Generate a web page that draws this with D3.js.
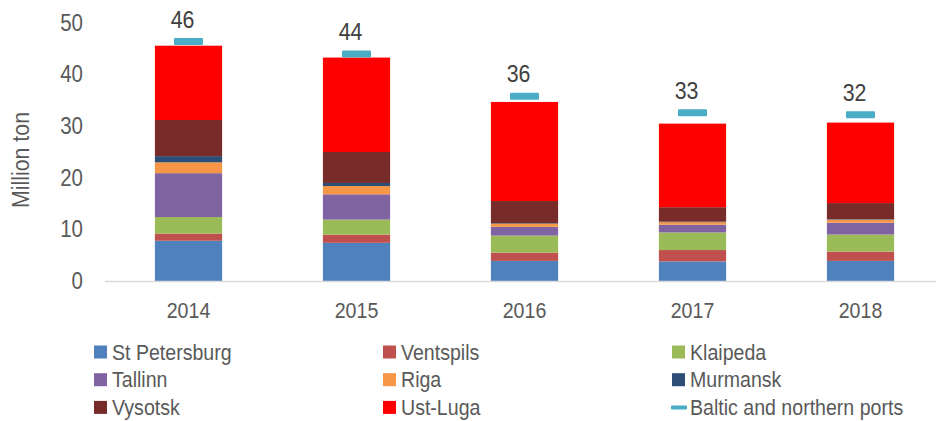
<!DOCTYPE html>
<html>
<head>
<meta charset="utf-8">
<script src="https://cdn.jsdelivr.net/npm/d3@7.9.0/dist/d3.min.js"></script>
<style>
  body { margin: 0; background: #fff; }
  svg text { font-family: "Liberation Sans", Arial, sans-serif; fill: #595959; }
</style>
</head>
<body>
<svg id="chart" width="936" height="421"></svg>
<script>
// Data (million ton)
const years = ['2014', '2015', '2016', '2017', '2018'];
const ports = ['St Petersburg', 'Ventspils', 'Klaipeda', 'Tallinn', 'Riga', 'Murmansk', 'Vysotsk', 'Ust-Luga'];
const portColors = ['#4F81BD', '#C0504D', '#9BBB59', '#8064A2', '#F79646', '#2C4D75', '#772C2A', '#FF0000'];

const stPetersburg = [7.8, 7.4, 3.9, 3.8, 3.9];
const ventspils    = [1.4, 1.6, 1.6, 2.2, 1.8];
const klaipeda     = [3.2, 2.9, 3.3, 3.4, 3.3];
const tallinn      = [8.5, 4.9, 1.7, 1.5, 2.3];
const riga         = [2.1, 1.6, 0.6, 0.5, 0.6];
const murmansk     = [1.2, 0.6, 0.1, 0.1, 0.1];
const vysotsk      = [7.0, 6.0, 4.3, 2.8, 3.1];
const ustLuga      = [14.4, 18.3, 19.2, 16.2, 15.6];
const balticTotal  = [46.4, 44.0, 35.8, 32.6, 32.2];

const yTicks = [0, 10, 20, 30, 40, 50];

const portSeries = [stPetersburg, ventspils, klaipeda, tallinn, riga, murmansk, vysotsk, ustLuga];
const MARKER_COLOR = '#4BACC6';
// no narrow font installed, so squeeze the regular one
const NARROW = 'scale(0.89,1)';

const svg = d3.select('#chart');

// table for the stack
const rows = years.map((yr, i) => {
    const r = { year: yr };
    ports.forEach((p, k) => { r[p] = portSeries[k][i]; });
    return r;
});
const stacked = d3.stack().keys(ports)(rows);

const x = d3.scaleBand().domain(years).range([104.5, 944.5]);
const y = d3.scaleLinear().domain([0, 50]).range([281, 23]);
const barW = x.bandwidth() * 0.4;
const color = d3.scaleOrdinal().domain(ports).range(portColors);

// y axis labels (no line, no ticks)
const yAxis = svg.append('g')
    .attr('transform', 'translate(83,0)')
    .call(d3.axisLeft(y).tickValues(yTicks).tickSize(0).tickPadding(0));
yAxis.select('.domain').remove();
yAxis.selectAll('text')
    .attr('font-size', 23).attr('font-family', null)
    .attr('transform', NARROW)
    .style('fill', '#595959');

// y axis title
svg.append('text')
    .attr('transform', 'translate(29,160) rotate(-90) ' + NARROW)
    .attr('text-anchor', 'middle')
    .attr('font-size', 24)
    .text('Million ton');

// stacked bars
svg.append('g').selectAll('g')
    .data(stacked)
    .join('g')
    .attr('fill', d => color(d.key))
    .selectAll('rect')
    .data(d => d)
    .join('rect')
    .attr('x', d => x(d.data.year) + (x.bandwidth() - barW) / 2)
    .attr('width', barW)
    .attr('y', d => y(d[1]))
    .attr('height', d => y(d[0]) - y(d[1]));

// baseline
svg.append('line')
    .attr('x1', 105).attr('x2', 936)
    .attr('y1', y(0) + 0.5).attr('y2', y(0) + 0.5)
    .attr('stroke', '#d9d9d9').attr('stroke-width', 1.5);

// x labels
const xAxis = svg.append('g')
    .attr('transform', `translate(0,${y(0)})`)
    .call(d3.axisBottom(x).tickSize(0).tickPadding(21));
xAxis.select('.domain').remove();
xAxis.selectAll('text')
    .attr('font-size', 22).attr('font-family', null)
    .attr('transform', NARROW)
    .style('fill', '#595959');

// total markers + labels
const totals = svg.append('g');
totals.selectAll('rect')
    .data(balticTotal)
    .join('rect')
    .attr('x', (d, i) => x(years[i]) + x.bandwidth() / 2 - 14.5)
    .attr('y', d => y(d) - 3.5)
    .attr('width', 29)
    .attr('height', 7)
    .attr('rx', 1)
    .attr('fill', MARKER_COLOR);
totals.selectAll('text')
    .data(balticTotal)
    .join('text')
    .attr('transform', (d, i) => `translate(${x(years[i]) + x.bandwidth() / 2 - 6},${y(d) - 14}) ${NARROW}`)
    .attr('text-anchor', 'middle')
    .attr('font-size', 24)
    .style('fill', '#404040')
    .text(d => Math.round(d));

// legend
const legendItems = ports.concat(['Baltic and northern ports']);
const legend = svg.append('g').selectAll('g')
    .data(legendItems)
    .join('g')
    .attr('transform', (d, i) => `translate(${94 + (i % 3) * 289},${352 + Math.floor(i / 3) * 27.7})`);
legend.each(function(d, i) {
    const g = d3.select(this);
    if (i < ports.length) {
        g.append('rect')
            .attr('x', 0).attr('y', -6.5)
            .attr('width', 13).attr('height', 13)
            .attr('fill', color(d));
    } else {
        g.append('rect')
            .attr('x', -1).attr('y', -2)
            .attr('width', 16).attr('height', 4)
            .attr('rx', 1)
            .attr('fill', MARKER_COLOR);
    }
    g.append('text')
        .attr('transform', 'translate(18,0) ' + NARROW)
        .attr('dy', '0.35em')
        .attr('font-size', 22)
        .text(d);
});
</script>
</body>
</html>
